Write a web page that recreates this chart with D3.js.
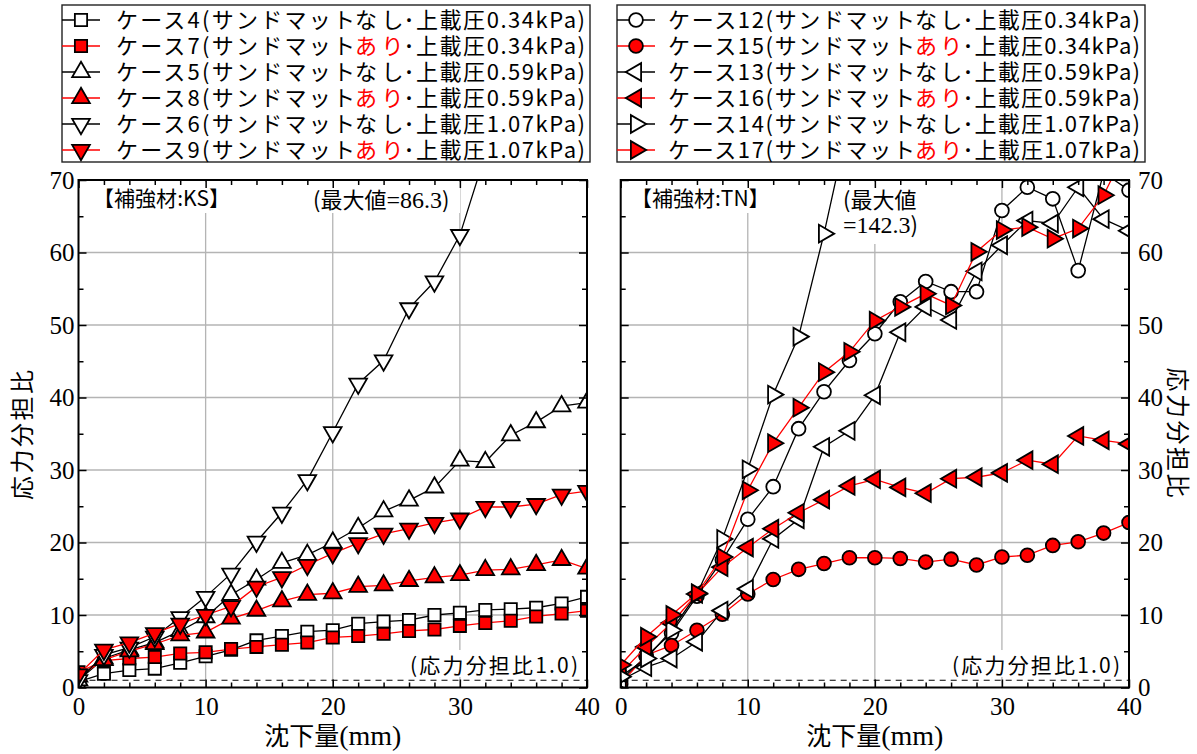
<!DOCTYPE html>
<html>
<head>
<meta charset="utf-8">
<script src="https://cdn.jsdelivr.net/npm/d3@7"></script>
<style>
  html, body { margin: 0; padding: 0; background: #fff; }
  svg { display: block; }
</style>
</head>
<body>
<svg id="chart" width="1197" height="754"></svg>
<script>
// ---- data -------------------------------------------------------------
// settlement (mm) at each reading
const settlement = [0, 2, 4, 6, 8, 10, 12, 14, 16, 18, 20, 22, 24, 26, 28, 30, 32, 34, 36, 38, 40];

// reinforcement KS : stress sharing ratio
const case4 = [0.8, 1.9, 2.4, 2.6, 3.4, 4.3, 5.2, 6.5, 7.1, 7.7, 7.9, 8.8, 9.1, 9.3, 10.0, 10.3, 10.7, 10.8, 11.0, 11.6, 12.5];
const case7 = [2.1, 3.7, 4.0, 4.2, 4.7, 4.85, 5.3, 5.6, 5.9, 6.2, 6.9, 7.1, 7.4, 7.8, 8.0, 8.5, 8.9, 9.2, 9.8, 10.2, 10.6];
const case5 = [1.0, 4.0, 5.2, 6.2, 7.8, 9.7, 12.8, 14.9, 17.2, 18.3, 20.0, 22.0, 24.3, 25.8, 27.6, 31.3, 31.1, 34.8, 36.6, 38.8, 39.3];
const case8 = [1.5, 3.8, 5.0, 6.0, 7.2, 7.6, 9.5, 10.6, 11.9, 12.8, 13.0, 13.9, 14.1, 14.7, 15.2, 15.5, 16.2, 16.3, 16.9, 17.6, 16.4];
const case6 = [1.0, 4.5, 5.5, 7.0, 9.7, 12.5, 15.7, 20.1, 24.1, 28.6, 35.2, 41.9, 45.1, 52.3, 56.0, 62.4, 73.5, null, null, null, null];
const case9 = [1.8, 5.2, 6.2, 7.5, 8.8, 10.0, 11.2, 13.9, 15.2, 16.9, 18.5, 19.9, 21.2, 21.9, 22.7, 23.3, 24.9, 24.9, 25.3, 26.6, 27.1];

// reinforcement TN : stress sharing ratio
const case12 = [1.0, 4.3, 7.5, 12.6, 17.6, 23.2, 27.7, 35.7, 40.8, 45.1, 48.8, 53.2, 56.0, 54.6, 54.6, 65.8, 69.0, 67.4, 57.5, 71.0, 68.6];
const case15 = [0.5, 4.45, 5.8, 7.9, 10.1, 12.9, 14.9, 16.3, 17.1, 17.9, 17.9, 17.8, 17.3, 17.7, 16.9, 18.0, 18.25, 19.6, 20.1, 21.3, 22.75];
const case13 = [1.0, 2.8, 4.0, 6.3, 10.6, 13.6, 20.5, 23.2, 33.2, 35.4, 40.3, 49.0, 52.5, 50.7, 57.4, 61.0, 64.4, 64.0, 69.0, 64.6, 63.0];
const case16 = [2.0, 5.6, 8.9, 12.9, 16.6, 19.3, 21.9, 24.1, 25.9, 27.8, 28.7, 27.6, 26.8, 28.8, 29.0, 29.6, 31.35, 30.8, 34.7, 34.1, 33.6];
const case14 = [1.5, 4.0, 7.9, 12.9, 20.5, 30.1, 40.4, 48.4, 62.6, 78.5, null, null, null, null, null, null, null, null, null, null, null];
const case17 = [3.1, 7.0, 10.0, 13.0, 18.0, 27.2, 33.7, 38.6, 43.5, 46.3, 50.6, 52.5, 54.3, 52.7, 60.1, 63.1, 63.5, 61.9, 63.3, 67.9, 75.0];

// axis ticks
const xMajorTicks = [0, 10, 20, 30, 40];
const xMinorTicks = [2, 4, 6, 8, 12, 14, 16, 18, 22, 24, 26, 28, 32, 34, 36, 38];
const yMajorTicks = [0, 10, 20, 30, 40, 50, 60, 70];
const yMinorTicks = [5, 15, 25, 35, 45, 55, 65];
const xGridTicks = [10, 20, 30];
const yGridTicks = [10, 20, 30, 40, 50, 60];
const unitRatio = 1.0;

// labels
const yTitle = "応力分担比";
const xTitleMain = "沈下量";
const xTitleUnit = "(mm)";
const ratioNote = "(応力分担比1.0)";

// ---- series descriptions ---------------------------------------------
const ksSeries = [
  { no: "4",  mat: false, load: "0.34", symbol: "square",   values: case4 },
  { no: "7",  mat: true,  load: "0.34", symbol: "square",   values: case7 },
  { no: "5",  mat: false, load: "0.59", symbol: "triUp",    values: case5 },
  { no: "8",  mat: true,  load: "0.59", symbol: "triUp",    values: case8 },
  { no: "6",  mat: false, load: "1.07", symbol: "triDown",  values: case6 },
  { no: "9",  mat: true,  load: "1.07", symbol: "triDown",  values: case9 }
];
const tnSeries = [
  { no: "12", mat: false, load: "0.34", symbol: "circle",   values: case12 },
  { no: "15", mat: true,  load: "0.34", symbol: "circle",   values: case15 },
  { no: "13", mat: false, load: "0.59", symbol: "triLeft",  values: case13 },
  { no: "16", mat: true,  load: "0.59", symbol: "triLeft",  values: case16 },
  { no: "14", mat: false, load: "1.07", symbol: "triRight", values: case14 },
  { no: "17", mat: true,  load: "1.07", symbol: "triRight", values: case17 }
];

// ---- styling ----------------------------------------------------------
const CJK = "'Noto Sans CJK JP', 'Noto Sans', sans-serif";
const SERIF = "'Liberation Serif', 'Times New Roman', serif";
const RED = "#ff0000";
const GRID = "#b4b4b4";

const svg = d3.select("#chart");

const symbolDefs = {
  square:   { type: d3.symbolSquare,   size: 150, rot: 0 },
  circle:   { type: d3.symbolCircle,   size: 150, rot: 0 },
  triUp:    { type: d3.symbolTriangle, size: 135, rot: 0 },
  triDown:  { type: d3.symbolTriangle, size: 135, rot: 180 },
  triLeft:  { type: d3.symbolTriangle, size: 135, rot: -90 },
  triRight: { type: d3.symbolTriangle, size: 135, rot: 90 }
};

function drawMarker(g, s, x, y) {
  const def = symbolDefs[s.symbol];
  g.append("path")
    .attr("d", d3.symbol().type(def.type).size(def.size)())
    .attr("transform", `translate(${x},${y}) rotate(${def.rot})`)
    .attr("fill", s.mat ? RED : "#fff")
    .attr("stroke", "#000")
    .attr("stroke-width", 1.8)
    .attr("stroke-linejoin", "miter");
}

// Lay out a run of differently styled pieces side by side, each as its own
// <text>; when a width is given the spacing of every piece is stretched
// (textLength) so the whole run spans that width.
function textRun(g, x, y, parts, width) {
  const nodes = parts.map(p => g.append("text")
    .attr("x", x).attr("y", y)
    .attr("font-family", p.font).attr("font-size", p.size)
    .attr("fill", p.fill || "#000")
    .text(p.text));
  const naturals = nodes.map(n => n.node().getComputedTextLength());
  const scale = width ? Math.max(1, width / d3.sum(naturals)) : 1;
  let cx = x;
  nodes.forEach((n, i) => {
    const w = naturals[i] * scale;
    n.attr("x", cx);
    if (scale > 1 && parts[i].text.length > 1) {
      n.attr("textLength", w.toFixed(1)).attr("lengthAdjust", "spacing");
    }
    cx += w;
  });
  return nodes;
}

// ---- legend -----------------------------------------------------------
function drawLegend(series, box) {
  const g = svg.append("g");
  g.append("rect")
    .attr("x", box.x).attr("y", box.y).attr("width", box.w).attr("height", box.h)
    .attr("fill", "#fff").attr("stroke", "#222").attr("stroke-width", 1.4);
  series.forEach((s, i) => {
    const cy = box.y + 15 + i * 26;
    g.append("line")
      .attr("x1", box.x).attr("x2", box.x + 38)
      .attr("y1", cy).attr("y2", cy)
      .attr("stroke", s.mat ? RED : "#000").attr("stroke-width", 1.3);
    drawMarker(g, s, box.x + 19, cy);
    textRun(g, box.textX, cy + 8, [
      { text: `ケース${s.no}(サンドマット`, font: CJK, size: 22 },
      { text: s.mat ? "あり" : "なし", font: CJK, size: 22, fill: s.mat ? RED : "#000" },
      { text: `･上載圧${s.load}kPa)`, font: CJK, size: 22 }
    ], box.textLen);
  });
}

drawLegend(ksSeries, { x: 62, y: 5, w: 528, h: 157, textX: 116, textLen: 469 });
drawLegend(tnSeries, { x: 617, y: 5, w: 528, h: 157, textX: 668, textLen: 472 });

// ---- panels -----------------------------------------------------------
const Y_TOP = 180, Y_BOT = 687.5;

function drawPanel(p) {
  const x = d3.scaleLinear().domain([0, 40]).range([p.x0, p.x1]);
  const y = d3.scaleLinear().domain([0, 70]).range([Y_BOT, Y_TOP]);
  const g = svg.append("g");

  const clipId = "clip-" + p.id;
  svg.append("defs").append("clipPath").attr("id", clipId)
    .append("rect")
    .attr("x", p.x0).attr("y", Y_TOP)
    .attr("width", p.x1 - p.x0).attr("height", Y_BOT - Y_TOP);

  // grid
  const grid = g.append("g").attr("stroke", GRID).attr("stroke-width", 1.3);
  xGridTicks.forEach(v => grid.append("line")
    .attr("x1", x(v)).attr("x2", x(v)).attr("y1", Y_TOP).attr("y2", Y_BOT));
  yGridTicks.forEach(v => grid.append("line")
    .attr("x1", p.x0).attr("x2", p.x1).attr("y1", y(v)).attr("y2", y(v)));

  // annotation boxes (white background hides grid behind the text)
  const notes = g.append("g");
  function note(bx, by, bw, bh) {
    notes.append("rect").attr("x", bx).attr("y", by).attr("width", bw).attr("height", bh).attr("fill", "#fff");
  }
  note(p.tag.x - 2, Y_TOP + 2, p.tag.w + 4, 31);
  textRun(notes, p.tag.x, Y_TOP + 26, [{ text: p.tag.text, font: CJK, size: 21 }], p.tag.w);

  note(p.maxNote.x - 3, Y_TOP + 2, p.maxNote.w, p.maxNote.h);
  if (p.maxNote.twoLines) {
    textRun(notes, p.maxNote.x, Y_TOP + 28, [{ text: "(最大値", font: CJK, size: 22 }]);
    textRun(notes, p.maxNote.x, Y_TOP + 53, [
      { text: "=" + p.maxNote.value, font: SERIF, size: 24 },
      { text: ")", font: CJK, size: 22 }
    ]);
  } else {
    textRun(notes, p.maxNote.x, Y_TOP + 28, [
      { text: "(最大値", font: CJK, size: 22 },
      { text: "=" + p.maxNote.value, font: SERIF, size: 24 },
      { text: ")", font: CJK, size: 22 }
    ]);
  }

  note(p.ratioX - 3, 650, 174, 27);
  textRun(notes, p.ratioX, 673, [{ text: ratioNote, font: CJK, size: 21 }], 168);

  // reference line at ratio 1.0
  g.append("line")
    .attr("x1", p.x0).attr("x2", p.x1)
    .attr("y1", y(unitRatio)).attr("y2", y(unitRatio))
    .attr("stroke", "#000").attr("stroke-width", 1.2)
    .attr("stroke-dasharray", "6,5");

  // series
  const plot = g.append("g").attr("clip-path", `url(#${clipId})`);
  const line = d3.line()
    .defined(d => d[1] != null)
    .x(d => x(d[0])).y(d => y(d[1]));
  p.series.forEach(s => {
    const pts = settlement.map((v, i) => [v, s.values[i]]);
    const sg = plot.append("g");
    sg.append("path")
      .attr("d", line(pts))
      .attr("fill", "none")
      .attr("stroke", s.mat ? RED : "#000")
      .attr("stroke-width", 1.3);
    pts.filter(d => d[1] != null).forEach(d => drawMarker(sg, s, x(d[0]), y(d[1])));
  });

  // frame
  g.append("rect")
    .attr("x", p.x0).attr("y", Y_TOP)
    .attr("width", p.x1 - p.x0).attr("height", Y_BOT - Y_TOP)
    .attr("fill", "none").attr("stroke", "#000").attr("stroke-width", 2);

  // axes: inward ticks on all four sides
  function styleAxis(sel) {
    sel.select(".domain").remove();
    sel.selectAll("line").attr("stroke", "#000").attr("stroke-width", 1.5);
    sel.attr("font-family", SERIF).attr("font-size", 25);
    sel.selectAll("text").attr("fill", "#000");
  }
  const bottom = g.append("g").attr("transform", `translate(0,${Y_BOT})`)
    .call(d3.axisBottom(x).tickValues(xMajorTicks).tickSize(-8).tickFormat(d3.format("d")));
  styleAxis(bottom);
  bottom.selectAll("text").attr("y", 27).attr("dy", null);
  g.append("g").attr("transform", `translate(0,${Y_BOT})`)
    .call(d3.axisBottom(x).tickValues(xMinorTicks).tickSize(-5).tickFormat(""))
    .call(styleAxis);
  g.append("g").attr("transform", `translate(0,${Y_TOP})`)
    .call(d3.axisTop(x).tickValues(xMajorTicks).tickSize(-8).tickFormat(""))
    .call(styleAxis);
  g.append("g").attr("transform", `translate(0,${Y_TOP})`)
    .call(d3.axisTop(x).tickValues(xMinorTicks).tickSize(-5).tickFormat(""))
    .call(styleAxis);

  const labelled = p.labelSide === "left";
  g.append("g").attr("transform", `translate(${p.x0},0)`)
    .call(d3.axisLeft(y).tickValues(yMajorTicks).tickSize(-8).tickPadding(4)
      .tickFormat(labelled ? d3.format("d") : ""))
    .call(styleAxis);
  g.append("g").attr("transform", `translate(${p.x0},0)`)
    .call(d3.axisLeft(y).tickValues(yMinorTicks).tickSize(-5).tickFormat(""))
    .call(styleAxis);
  g.append("g").attr("transform", `translate(${p.x1},0)`)
    .call(d3.axisRight(y).tickValues(yMajorTicks).tickSize(-8).tickPadding(9)
      .tickFormat(labelled ? "" : d3.format("d")))
    .call(styleAxis);
  g.append("g").attr("transform", `translate(${p.x1},0)`)
    .call(d3.axisRight(y).tickValues(yMinorTicks).tickSize(-5).tickFormat(""))
    .call(styleAxis);

  // axis titles: the x title is centred under the panel as two pieces
  const cx = (p.x0 + p.x1) / 2;
  const xt = textRun(g, 0, 745, [
    { text: xTitleMain, font: CJK, size: 25 },
    { text: xTitleUnit, font: SERIF, size: 28 }
  ]);
  const xtWidth = d3.sum(xt, n => n.node().getComputedTextLength());
  xt.forEach(n => n.attr("x", +n.attr("x") + cx - xtWidth / 2));

  const yc = (Y_TOP + Y_BOT) / 2;
  g.append("text")
    .attr("transform", labelled
      ? `translate(${p.titleX},${yc}) rotate(-90)`
      : `translate(${p.titleX},${yc}) rotate(90)`)
    .attr("text-anchor", "middle")
    .attr("font-family", CJK).attr("font-size", 24)
    .attr("letter-spacing", 2.5)
    .text(yTitle);
}

drawPanel({
  id: "ks", x0: 78.5, x1: 587, series: ksSeries, labelSide: "left", titleX: 31,
  tag: { x: 93, w: 137, text: "【補強材:KS】" },
  maxNote: { x: 313, w: 150, h: 31, value: "86.3", twoLines: false },
  ratioX: 410
});
drawPanel({
  id: "tn", x0: 620.7, x1: 1129, series: tnSeries, labelSide: "right", titleX: 1169,
  tag: { x: 631, w: 132, text: "【補強材:TN】" },
  maxNote: { x: 843, w: 90, h: 62, value: "142.3", twoLines: true },
  ratioX: 952
});
</script>
</body>
</html>
